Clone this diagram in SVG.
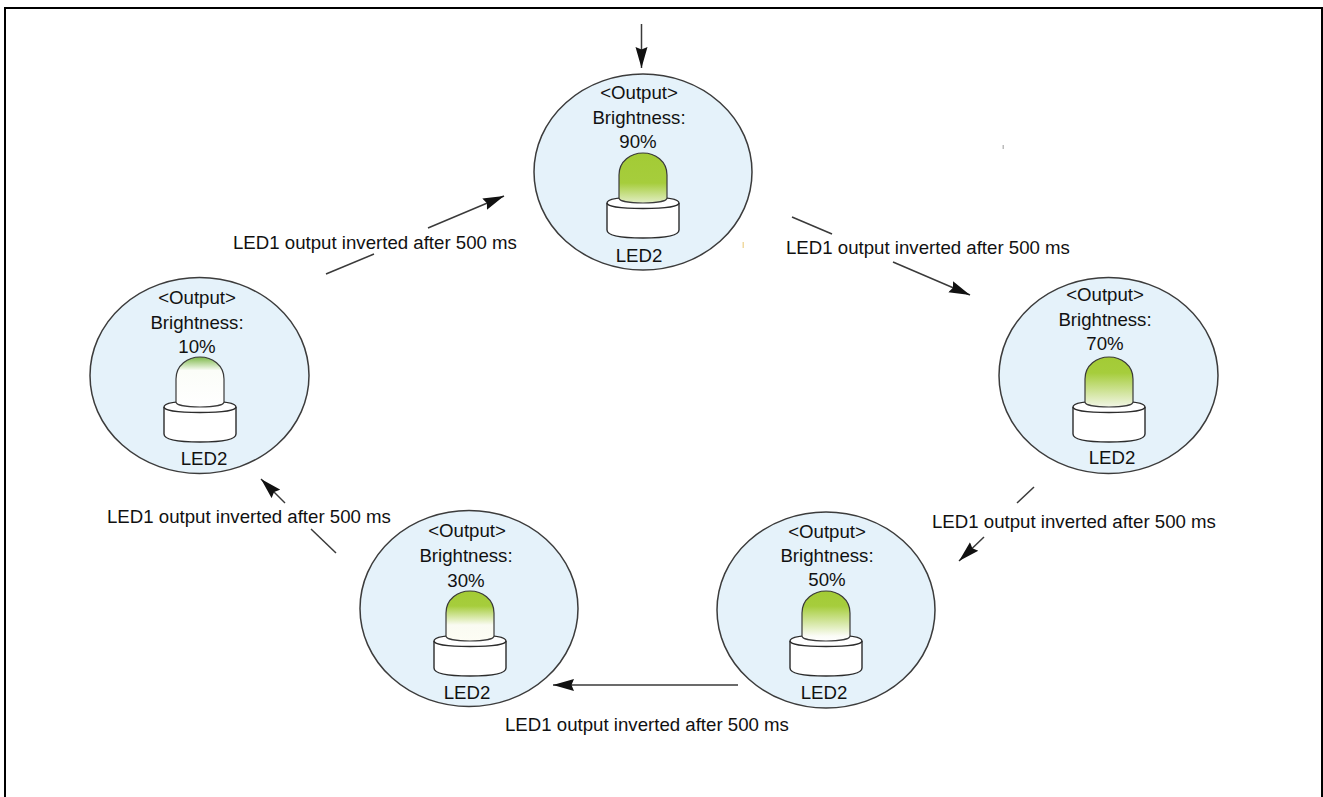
<svg xmlns="http://www.w3.org/2000/svg" xmlns:xlink="http://www.w3.org/1999/xlink" width="1323" height="797" viewBox="0 0 1323 797">
<style>
text{font-family:"Liberation Sans",Arial,sans-serif;font-size:18.650px;fill:#111;text-anchor:middle}
.lab{text-anchor:start}
.bub{fill:#e5f2fa;stroke:#3c3c3c;stroke-width:1.500}
.ln{stroke:#3a3a3a;stroke-width:1.500;fill:none}
.base{fill:#fff;stroke:#2c2c2c;stroke-width:1.400}
.dome{stroke:#3a3a3a;stroke-width:1.200}
</style>
<defs>
<marker id="ah" markerUnits="userSpaceOnUse" markerWidth="22" markerHeight="14" refX="21" refY="7" orient="auto"><path d="M0,1 L21,7 L0,13 L2.500,7 Z" fill="#111"/></marker>
<linearGradient id="g90" x1="0" y1="0" x2="0" y2="1"><stop offset="0" stop-color="#a3cb35"/><stop offset=".6" stop-color="#a6cd3c"/><stop offset="1" stop-color="#e2eec4"/></linearGradient>
<linearGradient id="g70" x1="0" y1="0" x2="0" y2="1"><stop offset="0" stop-color="#a3cb35"/><stop offset=".32" stop-color="#a6cd3c"/><stop offset="1" stop-color="#f2f6e6"/></linearGradient>
<linearGradient id="g50" x1="0" y1="0" x2="0" y2="1"><stop offset="0" stop-color="#a3cb35"/><stop offset=".3" stop-color="#a6cd3c"/><stop offset=".9" stop-color="#fbfcf6"/><stop offset="1" stop-color="#fff"/></linearGradient>
<linearGradient id="g30" x1="0" y1="0" x2="0" y2="1"><stop offset="0" stop-color="#a3cb35"/><stop offset=".3" stop-color="#a6cd3c"/><stop offset=".68" stop-color="#fafbf2"/><stop offset="1" stop-color="#fdfdf4"/></linearGradient>
<linearGradient id="g10" x1="0" y1="0" x2="0" y2="1"><stop offset="0" stop-color="#7db848"/><stop offset=".27" stop-color="#fbfdf8"/><stop offset="1" stop-color="#fff"/></linearGradient>
<path id="cyl" class="base" d="M-36,50 C-36,46 -26,44 0,44 C26,44 36,46 36,50 L36,77 C36,82 24,85 0,85 C-24,85 -36,82 -36,77 Z"/>
<path id="rim" d="M-36,50 C-36,53 -24,55.500 0,55.500 C24,55.500 36,53 36,50" fill="none" stroke="#2c2c2c" stroke-width="1.400"/>
</defs>
<rect width="1323" height="797" fill="#fff"/>
<path id="frame" d="M5,797 V8 H1322 V797" fill="none" stroke="#000" stroke-width="2"/>
<g id="node-90">
<ellipse class="bub" cx="643" cy="172" rx="109" ry="98"/>
<g transform="translate(643,153)"><use xlink:href="#cyl" href="#cyl"/><use href="#rim" xlink:href="#rim"/><path class="dome" fill="url(#g90)" d="M-24,45 V22 C-24,8 -12,0 0,0 C12,0 24,8 24,22 V45 C24,48 14,50 0,50 C-14,50 -24,48 -24,45 Z"/></g>
<text x="639" y="99">&lt;Output&gt;</text><text x="639" y="124">Brightness:</text><text x="638" y="148">90%</text><text x="639" y="262">LED2</text>
</g>
<g id="node-70">
<ellipse class="bub" cx="1108.500" cy="375.500" rx="109.500" ry="98"/>
<g transform="translate(1109,357)"><use xlink:href="#cyl" href="#cyl"/><use href="#rim" xlink:href="#rim"/><path class="dome" fill="url(#g70)" d="M-24,45 V22 C-24,8 -12,0 0,0 C12,0 24,8 24,22 V45 C24,48 14,50 0,50 C-14,50 -24,48 -24,45 Z"/></g>
<text x="1105" y="301">&lt;Output&gt;</text><text x="1105" y="326">Brightness:</text><text x="1105" y="350">70%</text><text x="1112" y="464">LED2</text>
</g>
<g id="node-50">
<ellipse class="bub" cx="826" cy="610" rx="109" ry="98"/>
<g transform="translate(826,591)"><use xlink:href="#cyl" href="#cyl"/><use href="#rim" xlink:href="#rim"/><path class="dome" fill="url(#g50)" d="M-24,45 V22 C-24,8 -12,0 0,0 C12,0 24,8 24,22 V45 C24,48 14,50 0,50 C-14,50 -24,48 -24,45 Z"/></g>
<text x="827" y="538">&lt;Output&gt;</text><text x="827" y="562">Brightness:</text><text x="827" y="586">50%</text><text x="824" y="699">LED2</text>
</g>
<g id="node-30">
<ellipse class="bub" cx="469" cy="608.500" rx="109" ry="98"/>
<g transform="translate(470,591)"><use xlink:href="#cyl" href="#cyl"/><use href="#rim" xlink:href="#rim"/><path class="dome" fill="url(#g30)" d="M-24,45 V22 C-24,8 -12,0 0,0 C12,0 24,8 24,22 V45 C24,48 14,50 0,50 C-14,50 -24,48 -24,45 Z"/></g>
<text x="467" y="537">&lt;Output&gt;</text><text x="466" y="562">Brightness:</text><text x="466" y="587">30%</text><text x="467" y="699">LED2</text>
</g>
<g id="node-10">
<ellipse class="bub" cx="199.500" cy="375.500" rx="109.500" ry="98"/>
<g transform="translate(200,357)"><use xlink:href="#cyl" href="#cyl"/><use href="#rim" xlink:href="#rim"/><path class="dome" fill="url(#g10)" d="M-24,45 V22 C-24,8 -12,0 0,0 C12,0 24,8 24,22 V45 C24,48 14,50 0,50 C-14,50 -24,48 -24,45 Z"/></g>
<text x="197" y="304">&lt;Output&gt;</text><text x="197" y="329">Brightness:</text><text x="197" y="353">10%</text><text x="204" y="465">LED2</text>
</g>
<g id="connectors">
<path class="ln" marker-end="url(#ah)" d="M641.500,24 V68"/>
<path class="ln" d="M792,217 L832,234"/><path class="ln" marker-end="url(#ah)" d="M893,262 L970,295"/>
<path class="ln" d="M1034,487 L1017,503"/><path class="ln" marker-end="url(#ah)" d="M984,537 L959,561"/>
<path class="ln" marker-end="url(#ah)" d="M738,685 H553"/>
<path class="ln" d="M336,553 L311,529"/><path class="ln" marker-end="url(#ah)" d="M285,503 L261,479"/>
<path class="ln" d="M326,274 L374,254"/><path class="ln" marker-end="url(#ah)" d="M428,228 L504,196"/>
</g>
<g id="labels">
<text class="lab" x="786" y="254">LED1 output inverted after 500 ms</text>
<text class="lab" x="932" y="528">LED1 output inverted after 500 ms</text>
<text class="lab" x="505" y="731">LED1 output inverted after 500 ms</text>
<text class="lab" x="107" y="523">LED1 output inverted after 500 ms</text>
<text class="lab" x="233" y="249">LED1 output inverted after 500 ms</text>
</g>
<rect x="1002.500" y="145" width="1.500" height="4" fill="#bbb"/>
<rect x="742.500" y="242" width="1.500" height="6" fill="#f0d9a0"/>
</svg>
